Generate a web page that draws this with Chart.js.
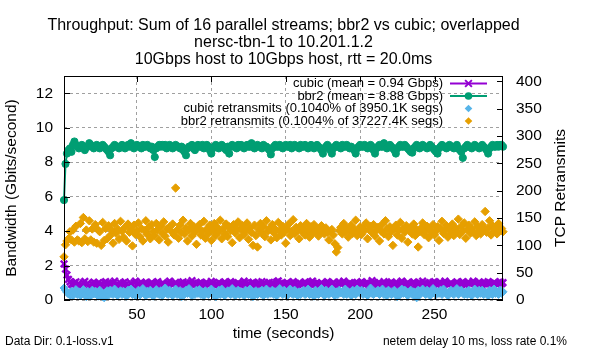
<!DOCTYPE html>
<html>
<head>
<meta charset="utf-8">
<script src="https://cdn.jsdelivr.net/npm/chart.js@4.4.1/dist/chart.umd.min.js"></script>
<style>
  html, body { margin: 0; padding: 0; background: #fff; }
  #wrap { width: 600px; height: 350px; position: relative; }
</style>
</head>
<body>
<div id="wrap"><canvas id="tput"></canvas></div>
<script>
// text
const titleLines = [
  "Throughput: Sum of 16 parallel streams; bbr2 vs cubic; overlapped",
  "nersc-tbn-1 to 10.201.1.2",
  "10Gbps host to 10Gbps host, rtt = 20.0ms"
];
const legendLabels = [
  "cubic (mean = 0.94 Gbps)",
  "bbr2 (mean = 8.88 Gbps)",
  "cubic retransmits (0.1040% of 3950.1K segs)",
  "bbr2 retransmits (0.1004% of 37227.4K segs)"
];
const y2Title = "TCP Retransmits";
const footLeft = "Data Dir: 0.1-loss.v1";
const footRight = "netem delay 10 ms, loss rate 0.1%";

// ticks
const xTicks = [50, 100, 150, 200, 250];
const leftTicks = [0, 2, 4, 6, 8, 10, 12];
const rightTicks = [0, 50, 100, 150, 200, 250, 300, 350, 400];

// throughput, Gbps, one value per second starting at t=1
const cubicGbps = [
  2.10, 1.80, 1.45, 1.20, 1.05, 0.92, 0.85, 1.00, 1.06, 0.88,
  0.95, 0.83, 0.80, 0.99, 1.08, 0.89, 0.96, 0.82, 0.78, 0.94,
  1.04, 0.97, 0.86, 1.00, 0.84, 0.80, 0.90, 1.01, 1.07, 0.93,
  0.84, 0.97, 0.89, 1.00, 1.09, 0.87, 0.79, 0.86, 0.98, 0.90,
  1.00, 1.06, 0.93, 0.84, 0.79, 0.97, 0.87, 1.00, 1.10, 0.89,
  0.81, 0.92, 1.02, 0.86, 0.97, 1.04, 0.90, 0.80, 0.94, 1.03,
  0.92, 0.82, 0.99, 1.07, 0.93, 0.85, 0.97, 0.90, 0.79, 0.92,
  1.01, 1.09, 0.96, 0.87, 0.94, 1.03, 0.85, 0.80, 0.92, 0.99,
  1.06, 0.93, 0.83, 0.96, 0.89, 1.01, 1.12, 0.98, 0.87, 0.94,
  0.85, 0.98, 1.04, 0.92, 0.81, 0.93, 1.01, 0.89, 0.96, 1.08,
  0.99, 0.87, 0.80, 0.91, 1.03, 0.96, 0.85, 0.94, 1.05, 0.92,
  0.82, 0.96, 1.07, 0.98, 0.89, 0.81, 0.94, 1.01, 0.92, 0.85,
  0.97, 1.10, 1.00, 0.87, 0.94, 0.84, 0.98, 1.04, 0.89, 0.79,
  0.92, 1.01, 0.94, 1.07, 0.97, 0.87, 0.81, 0.94, 1.03, 0.89,
  0.99, 0.85, 0.92, 1.05, 1.11, 0.96, 0.87, 0.94, 0.83, 0.97,
  1.03, 0.92, 0.84, 0.98, 1.07, 0.94, 0.81, 0.90, 1.01, 0.96,
  0.87, 0.96, 1.05, 0.92, 0.83, 0.94, 1.03, 1.09, 0.97, 0.89,
  0.99, 0.85, 0.94, 1.01, 0.92, 0.81, 0.96, 1.07, 0.99, 0.87,
  0.94, 1.03, 0.89, 0.82, 0.96, 1.05, 0.92, 0.98, 1.10, 0.94,
  0.85, 0.92, 1.01, 0.96, 0.87, 0.79, 0.94, 1.03, 0.92, 0.99,
  1.07, 0.96, 0.87, 0.94, 1.01, 0.89, 0.98, 1.12, 1.03, 0.92,
  0.82, 0.94, 1.01, 0.89, 0.96, 1.07, 0.94, 0.85, 0.92, 0.99,
  1.05, 0.94, 0.81, 0.89, 0.98, 0.92, 1.01, 1.09, 0.96, 0.87,
  0.94, 1.03, 0.92, 0.85, 0.96, 1.05, 0.89, 0.81, 0.94, 1.01,
  0.96, 1.10, 0.98, 0.89, 0.83, 0.94, 1.01, 0.92, 1.03, 1.07,
  0.94, 0.85, 0.96, 1.03, 0.89, 0.98, 1.09, 0.96, 0.87, 0.92,
  1.01, 0.92, 0.83, 0.94, 1.05, 0.96, 0.89, 0.98, 1.07, 0.94,
  0.85, 0.96, 1.03, 0.92, 0.98, 1.10, 0.94, 0.87, 0.96, 1.05,
  0.92, 0.81, 0.94, 1.01, 0.96, 1.07, 0.98, 0.89, 0.94, 1.03,
  0.96, 0.87, 0.98, 1.07, 0.94, 1.01
];
const bbr2Gbps = [
  5.80, 7.90, 8.50, 8.70, 8.80, 8.60, 9.00, 9.20, 9.00, 8.90,
  8.80, 8.90, 9.00, 8.90, 8.70, 8.90, 8.90, 9.10, 9.00, 8.90,
  8.80, 8.90, 9.00, 8.90, 8.80, 8.90, 9.00, 8.90, 8.80, 8.70,
  8.60, 8.40, 8.80, 8.90, 9.00, 8.90, 8.90, 8.80, 8.90, 9.00,
  8.90, 8.80, 8.90, 9.00, 8.90, 9.10, 8.90, 8.80, 8.90, 9.00,
  8.90, 8.90, 8.80, 9.00, 8.90, 8.90, 9.00, 8.90, 8.80, 8.90,
  8.70, 8.30, 8.80, 8.90, 9.00, 8.90, 9.00, 8.90, 9.00, 8.80,
  8.90, 9.00, 8.90, 8.80, 8.90, 9.00, 8.90, 8.90, 8.80, 8.90,
  8.70, 8.60, 8.40, 8.80, 8.90, 8.90, 9.00, 8.80, 8.70, 8.90,
  9.00, 8.90, 8.90, 9.00, 8.80, 8.90, 9.00, 8.90, 8.70, 8.50,
  8.80, 8.90, 9.00, 8.90, 8.80, 8.90, 9.00, 8.90, 8.80, 8.70,
  8.90, 8.50, 8.90, 9.00, 8.90, 8.90, 8.80, 9.00, 8.90, 9.00,
  8.90, 8.80, 8.90, 9.00, 8.90, 8.90, 9.10, 8.90, 8.80, 8.90,
  9.00, 8.90, 8.90, 8.80, 9.00, 8.90, 8.90, 8.80, 8.70, 8.45,
  8.80, 8.90, 9.00, 8.90, 8.90, 9.00, 8.90, 8.80, 8.90, 9.00,
  8.90, 8.90, 9.00, 8.80, 8.90, 9.00, 8.90, 8.90, 8.80, 9.00,
  8.90, 8.90, 9.00, 8.90, 8.80, 8.90, 9.00, 8.90, 8.80, 8.90,
  9.00, 8.90, 8.80, 8.70, 8.50, 8.80, 8.90, 9.00, 8.90, 8.70,
  8.50, 8.80, 8.90, 9.00, 8.90, 8.90, 8.80, 9.00, 8.90, 8.90,
  9.00, 8.90, 8.80, 8.90, 8.80, 8.70, 8.50, 8.80, 8.90, 9.00,
  8.90, 8.90, 9.00, 8.90, 8.80, 8.90, 9.00, 8.90, 8.70, 8.50,
  8.80, 8.90, 9.00, 8.90, 8.90, 9.10, 8.90, 8.80, 8.90, 9.00,
  8.90, 8.80, 8.70, 8.50, 8.80, 8.90, 9.00, 8.90, 8.90, 9.00,
  8.90, 8.80, 8.70, 8.60, 8.55, 8.80, 8.90, 9.00, 8.90, 8.80,
  8.90, 9.00, 8.90, 8.90, 8.80, 8.90, 9.00, 8.90, 8.80, 8.70,
  8.60, 8.50, 8.80, 8.90, 9.00, 8.90, 8.90, 8.80, 8.90, 9.00,
  8.90, 8.90, 8.80, 8.90, 9.00, 8.80, 8.70, 8.60, 8.25, 8.80,
  8.90, 9.00, 8.90, 8.90, 8.80, 8.90, 9.00, 8.90, 8.90, 8.80,
  8.90, 9.00, 8.90, 8.80, 8.70, 8.50, 8.80, 8.90, 9.00, 8.90,
  8.90, 9.00, 8.90, 9.00, 9.00, 8.90
];

// retransmits per second (right axis)
const cubicRetrans = [
  22, 18, 14, 11, 9, 16, 8, 13, 19, 10,
  15, 8, 12, 19, 10, 6, 16, 13, 8, 18,
  11, 16, 13, 7, 18, 10, 6, 4, 14, 17,
  9, 18, 12, 10, 20, 15, 8, 13, 17, 10,
  16, 11, 7, 18, 13, 20, 10, 15, 8, 13,
  18, 9, 15, 21, 12, 8, 16, 11, 18, 13,
  7, 15, 19, 12, 10, 17, 8, 15, 22, 12,
  10, 18, 13, 8, 15, 20, 10, 13, 17, 6,
  15, 10, 18, 12, 21, 15, 8, 13, 10, 18,
  12, 19, 10, 15, 8, 17, 13, 10, 15, 20,
  10, 15, 6, 13, 18, 10, 20, 15, 8, 12,
  17, 12, 10, 21, 15, 8, 13, 18, 10, 15,
  13, 8, 18, 15, 10, 20, 12, 6, 15, 17,
  10, 15, 12, 18, 8, 13, 20, 10, 15, 12,
  18, 10, 15, 8, 13, 21, 15, 10, 18, 12,
  8, 15, 20, 12, 10, 18, 13, 8, 15, 10,
  15, 18, 10, 12, 20, 10, 15, 13, 7, 18,
  12, 10, 15, 21, 12, 8, 18, 15, 10, 13,
  20, 12, 8, 15, 10, 18, 13, 15, 10, 20,
  10, 15, 12, 8, 18, 13, 10, 20, 15, 12,
  18, 10, 15, 12, 8, 15, 22, 12, 10, 15,
  13, 18, 10, 15, 20, 10, 12, 8, 18, 15,
  10, 15, 18, 12, 6, 15, 10, 20, 12, 18,
  15, 8, 13, 18, 10, 15, 12, 4, 18, 10,
  12, 20, 15, 10, 18, 13, 8, 15, 21, 12,
  10, 15, 12, 18, 10, 20, 15, 12, 8, 15,
  18, 12, 10, 15, 21, 10, 15, 18, 12, 10,
  15, 10, 18, 12, 8, 15, 20, 12, 10, 18,
  12, 18, 10, 15, 13, 8, 18, 15, 10, 20,
  12, 15, 10, 18, 12, 15
];
const bbr2Retrans = [
  79, 101, 108, 112, 125, 110, 128, 106, 135, 110,
  108, 140, 105, 151, 112, 128, 107, 145, 110, 130,
  106, 138, 104, 128, 125, 100, 142, 109, 131, 112,
  136, 118, 128, 104, 140, 122, 130, 111, 144, 126,
  115, 133, 108, 139, 124, 129, 99, 137, 120, 126,
  141, 116, 131, 108, 127, 145, 120, 133, 112, 138,
  125, 118, 140, 129, 110, 135, 122, 143, 117, 130,
  106, 134, 126, 139, 119, 205, 128, 113, 137, 124,
  146, 121, 132, 108, 128, 140, 117, 135, 124, 102,
  131, 138, 119, 126, 144, 113, 130, 122, 137, 109,
  128, 140, 118, 133, 125, 146, 112, 131, 121, 139,
  116, 134, 127, 105, 138, 123, 131, 143, 114, 129,
  136, 120, 127, 141, 111, 132, 124, 100, 137, 118,
  97, 129, 140, 122, 134, 116, 145, 126, 131, 110,
  138, 123, 129, 114, 142, 127, 119, 135, 124, 104,
  130, 139, 118, 126, 147, 121, 133, 128, 112, 136,
  125, 131, 119, 140, 127, 115, 134, 122, 138, 126,
  130, 117, 125, 136, 128, 121, 132, 124, 110, 126,
  129, 119, 103, 88, 96, 127, 133, 121, 140, 125,
  131, 115, 128, 137, 122, 130, 146, 118, 126, 134,
  120, 132, 127, 141, 112, 129, 135, 123, 138, 117,
  128, 133, 108, 126, 139, 121, 145, 130, 116, 134,
  125, 100, 131, 137, 119, 128, 142, 113, 130, 124,
  136, 106, 127, 133, 121, 139, 118, 129, 97, 125,
  132, 141, 120, 127, 135, 114, 130, 123, 138, 119,
  126, 134, 109, 131, 144, 122, 128, 136, 115, 130,
  124, 139, 118, 132, 127, 148, 120, 135, 126, 141,
  113, 129, 137, 122, 131, 125, 143, 118, 134, 127,
  121, 138, 130, 162, 124, 132, 145, 119, 136, 128,
  134, 121, 140, 127, 131, 125
];

const PURPLE = "#9400d3", GREEN = "#009e73", BLUE = "#56b4e9", ORANGE = "#e69f00";
const FONT = "'Liberation Sans', Arial, sans-serif";

document.addEventListener("DOMContentLoaded", function () {
  const ctx = document.getElementById("tput").getContext("2d");
  const seconds = cubicGbps.map((v, i) => i + 1);
  const pts = vals => vals.map((v, i) => ({ x: seconds[i], y: v }));

  // diamond / cross / circle markers for the hand drawn key
  function marker(c, style, color, x, y, r) {
    c.save();
    c.fillStyle = color;
    c.strokeStyle = color;
    c.lineWidth = 2;
    c.beginPath();
    if (style === "circle") {
      c.arc(x, y, r, 0, Math.PI * 2);
      c.fill();
    } else if (style === "diamond") {
      c.moveTo(x, y - r); c.lineTo(x + r, y); c.lineTo(x, y + r); c.lineTo(x - r, y);
      c.closePath();
      c.fill();
    } else {
      const d = r * 0.75;
      c.moveTo(x - d, y - d); c.lineTo(x + d, y + d);
      c.moveTo(x + d, y - d); c.lineTo(x - d, y + d);
      c.stroke();
    }
    c.restore();
  }

  const gnuplotLook = {
    id: "gnuplotLook",
    afterDraw(chart) {
      const c = chart.ctx;
      const a = chart.chartArea;
      const sx = chart.scales.x, sy = chart.scales.y, sy2 = chart.scales.y2;
      c.save();
      // frame
      c.strokeStyle = "#000";
      c.lineWidth = 1;
      c.strokeRect(a.left + 0.5, a.top + 0.5, a.right - a.left - 1, a.bottom - a.top - 1);
      // inward tick marks
      c.beginPath();
      leftTicks.forEach(v => {
        const y = Math.round(sy.getPixelForValue(v)) + 0.5;
        c.moveTo(a.left, y); c.lineTo(a.left + 6, y);
      });
      rightTicks.forEach(v => {
        const y = Math.round(sy2.getPixelForValue(v)) + 0.5;
        c.moveTo(a.right, y); c.lineTo(a.right - 6, y);
      });
      xTicks.forEach(v => {
        const x = Math.round(sx.getPixelForValue(v)) + 0.5;
        c.moveTo(x, a.bottom); c.lineTo(x, a.bottom - 6);
        c.moveTo(x, a.top); c.lineTo(x, a.top + 6);
      });
      c.stroke();

      // title
      c.fillStyle = "#000";
      c.font = "16px " + FONT;
      c.textAlign = "center";
      c.textBaseline = "alphabetic";
      const cx = (a.left + a.right) / 2;
      titleLines.forEach((t, i) => c.fillText(t, cx, 29.5 + i * 17));

      // right axis title, reading upwards like the left one
      c.save();
      c.font = "15.5px " + FONT;
      c.textBaseline = "middle";
      c.translate(561, (a.top + a.bottom) / 2);
      c.rotate(-Math.PI / 2);
      c.fillText(y2Title, 0, 0);
      c.restore();

      // key
      c.font = "13px " + FONT;
      c.textAlign = "right";
      c.textBaseline = "middle";
      const styles = [
        { color: PURPLE, line: true, m: "cross" },
        { color: GREEN, line: true, m: "circle" },
        { color: BLUE, line: false, m: "diamond" },
        { color: ORANGE, line: false, m: "diamond" }
      ];
      legendLabels.forEach((t, i) => {
        const y = 83.5 + i * 12.5;
        c.fillStyle = "#000";
        c.fillText(t, 443, y);
        const s = styles[i];
        if (s.line) {
          c.strokeStyle = s.color;
          c.lineWidth = 2;
          c.beginPath(); c.moveTo(450, y); c.lineTo(487, y); c.stroke();
        }
        marker(c, s.m, s.color, 468.5, y, s.m === "cross" ? 4.5 : 3.8);
      });

      // footer notes
      c.fillStyle = "#000";
      c.font = "12px " + FONT;
      c.textBaseline = "alphabetic";
      c.textAlign = "left";
      c.fillText(footLeft, 5, 345);
      c.textAlign = "right";
      c.fillText(footRight, 567, 345);
      c.restore();
    }
  };

  const tickFont = { family: FONT, size: 15.5 };
  const grid = { color: "#a0a0a0", lineWidth: 1, drawTicks: false };

  new Chart(ctx, {
    type: "line",
    data: {
      datasets: [
        {
          label: legendLabels[0], data: pts(cubicGbps), yAxisID: "y", order: 4,
          borderColor: PURPLE, backgroundColor: PURPLE, borderWidth: 2,
          pointStyle: "crossRot", pointRadius: 4.6, pointBorderWidth: 2.4, tension: 0
        },
        {
          label: legendLabels[1], data: pts(bbr2Gbps), yAxisID: "y", order: 3,
          borderColor: GREEN, backgroundColor: GREEN, borderWidth: 2,
          pointStyle: "circle", pointRadius: 3.6, pointBorderWidth: 1, tension: 0
        },
        {
          label: legendLabels[2], data: pts(cubicRetrans), yAxisID: "y2", order: 2,
          showLine: false, borderColor: BLUE, backgroundColor: BLUE,
          pointStyle: "rectRot", pointRadius: 4, pointBorderWidth: 1
        },
        {
          label: legendLabels[3], data: pts(bbr2Retrans), yAxisID: "y2", order: 1,
          showLine: false, borderColor: ORANGE, backgroundColor: ORANGE,
          pointStyle: "rectRot", pointRadius: 4.2, pointBorderWidth: 1
        }
      ]
    },
    options: {
      responsive: true,
      maintainAspectRatio: false,
      animation: false,
      devicePixelRatio: 1,
      clip: false,
      layout: { padding: { top: 76, left: 0, right: 0, bottom: 0 } },
      plugins: { legend: { display: false }, title: { display: false }, tooltip: { enabled: false } },
      scales: {
        x: {
          type: "linear", min: 1, max: 296,
          afterBuildTicks: s => { s.ticks = xTicks.map(v => ({ value: v })); },
          afterFit: s => { s.height = 50; },
          grid: grid,
          border: { display: false, dash: [3, 3] },
          ticks: { font: tickFont, color: "#000", padding: 5, maxRotation: 0 },
          title: { display: true, text: "time (seconds)", font: tickFont, color: "#000", padding: { top: 0, bottom: 7 } }
        },
        y: {
          type: "linear", position: "left", min: 0, max: 13,
          afterBuildTicks: s => { s.ticks = leftTicks.map(v => ({ value: v })); },
          afterFit: s => { s.width = 64; },
          grid: grid,
          border: { display: false, dash: [3, 3] },
          ticks: { font: tickFont, color: "#000", padding: 11 },
          title: { display: true, text: "Bandwidth (Gbits/second)", font: tickFont, color: "#000", padding: { top: 2, bottom: 0 } }
        },
        y2: {
          type: "linear", position: "right", min: 0, max: 410,
          afterBuildTicks: s => { s.ticks = rightTicks.map(v => ({ value: v })); },
          afterFit: s => { s.width = 97; },
          grid: { display: false, drawTicks: false },
          border: { display: false },
          ticks: { font: tickFont, color: "#000", padding: 13 },
          title: { display: false }
        }
      }
    },
    plugins: [gnuplotLook]
  });
});
</script>
</body>
</html>
